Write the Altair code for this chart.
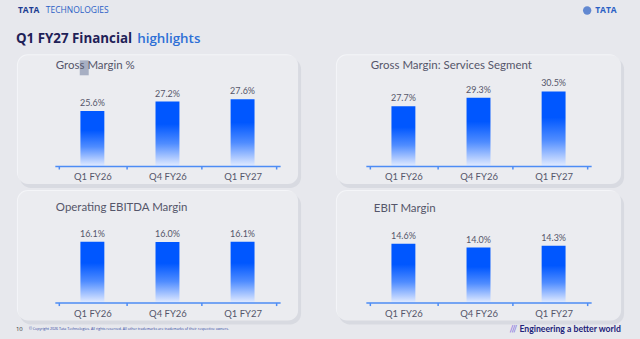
import altair as alt
import pandas as pd

quarters = ["Q1 FY26", "Q4 FY26", "Q1 FY27"]
gross_margin = [25.6, 27.2, 27.6]
services_margin = [27.7, 29.3, 30.5]
ebitda_margin = [16.1, 16.0, 16.1]
ebit_margin = [14.6, 14.0, 14.3]

panel_titles = ["Gross Margin %", "Gross Margin: Services Segment",
                "Operating EBITDA Margin", "EBIT Margin"]

W, H = 226, 85
BG = "#e7e8ed"
PANEL = "#ebecf0"
TXT = "#55566a"
AXIS_BLUE = "#4d8cf5"
FONT = "Lato"

bar_gradient = alt.Gradient(
    gradient="linear",
    stops=[
        alt.GradientStop(color="#0057ff", offset=0),
        alt.GradientStop(color="#0057ff", offset=0.35),
        alt.GradientStop(color="#4f8cff", offset=0.65),
        alt.GradientStop(color="#e2ebff", offset=1),
    ],
    x1=0, x2=0, y1=0, y2=1,
)

one = pd.DataFrame({"a": [0]})


def rect(x, x2, y, y2, fill, radius=0, opacity=1.0):
    return alt.Chart(one).mark_rect(fill=fill, cornerRadius=radius, opacity=opacity).encode(
        x=alt.value(x), x2=alt.value(x2), y=alt.value(y), y2=alt.value(y2))


def txt(s, x, y, size, color, weight="normal", font=FONT, align="left"):
    return alt.Chart(one).mark_text(text=s, fontSize=size, color=color, fontWeight=weight,
                                    font=font, align=align, baseline="middle").encode(
        x=alt.value(x), y=alt.value(y))


def panel(vals, domain, title, rx0, rx1, ry0, ry1, tx, ty, extra_before=None, extra_after=None):
    df = pd.DataFrame({"q": quarters, "v": vals, "lbl": [f"{v:.1f}%" for v in vals]})
    base = alt.Chart(df).encode(
        x=alt.X("q:N", sort=quarters, title=None,
                axis=alt.Axis(domainColor=AXIS_BLUE, domainWidth=1.5, tickColor=AXIS_BLUE,
                              tickWidth=1.5, tickSize=3, tickBand="extent", labelAngle=0,
                              labelColor=TXT, labelFontSize=9.5, labelFont=FONT,
                              labelPadding=3, grid=False, zindex=1)),
        y=alt.Y("v:Q", scale=alt.Scale(domain=domain, zero=False, nice=False), axis=None),
    )
    bars = base.mark_bar(size=24, color=bar_gradient).encode(y2=alt.Y2(datum=domain[0]))
    labels = base.mark_text(baseline="bottom", dy=-3, fontSize=9, color=TXT, font=FONT).encode(
        text="lbl:N")
    layers = []
    if extra_before:
        layers += extra_before
    layers += [
        rect(rx0 + 2, rx1 + 3, ry0 + 3, ry1 + 4, "#d6d8df", 11, 0.9),
        rect(rx0 - 1, rx1 - 1, ry0 - 1, ry1 - 1, "#f4f5f8", 11),
        rect(rx0, rx1, ry0, ry1, PANEL, 10),
    ]
    if extra_after:
        layers += extra_after
    layers += [txt(title, tx, ty, 11.5, TXT), bars, labels]
    return alt.layer(*layers).properties(width=W, height=H)


# slide decorations, positioned relative to the top-left panel's plot area (54, 80)
OX, OY = 54, 80
slide_bg = [rect(-OX, 640 - OX, -OY, 339 - OY, BG)]
header = [
    txt("TATA", 17 - OX, 9 - OY, 8.5, "#1c3c92", "bold", "Open Sans"),
    txt("TECHNOLOGIES", 45 - OX, 9 - OY, 8.5, "#2c5fc6", "normal", "Open Sans"),
    txt("Q1 FY27 Financial", 15 - OX, 38 - OY, 13.4, "#1f2157", "bold", "Open Sans"),
    txt("highlights", 200 - OX, 38 - OY, 13.4, "#2d6fd6", 600, "Open Sans", "right"),
    alt.Chart(one).mark_point(shape="circle", filled=True, size=70, color="#2a5fc4").encode(
        x=alt.value(588 - OX), y=alt.value(9 - OY)),
    txt("TATA", 596 - OX, 9 - OY, 8.5, "#2a5fc4", "bold", "Open Sans"),
    txt("10", 15 - OX, 328 - OY, 6, "#333333", "normal", "Open Sans"),
    txt("© Copyright 2026 Tata Technologies. All rights reserved. All other trademarks are trademarks of their respective owners.",
        28 - OX, 328 - OY, 3.6, "#2a3fa0", "normal", "Open Sans"),
    txt("///", 510 - OX, 329 - OY, 8.5, "#8f7fe0", "bold", FONT),
    txt("Engineering a better world", 520 - OX, 329 - OY, 8.7, "#22237a", "bold", FONT),
    rect(79 - OX, 88 - OX, 59 - OY, 74 - OY, "#9ba5bb", 0, 0.85),
]

tl = panel(gross_margin, [16.4, 30.6], panel_titles[0], -37, 244, -26, 103, 1, -15,
           extra_before=slide_bg, extra_after=header)
tr = panel(services_margin, [16.5, 32.4], panel_titles[1], -29, 256, -26, 103, 5, -15)
bl = panel(ebitda_margin, [0, 22.4], panel_titles[2], -37, 244, -27, 103, 1, -10)
br = panel(ebit_margin, [5.1, 18.8], panel_titles[3], -29, 256, -27, 103, 8, -9)

chart = alt.concat(tl, tr, bl, br, columns=2, spacing={"row": 52, "column": 86},
                   bounds="flush").properties(
    padding=0, autosize=alt.AutoSizeParams(type="pad")
).configure_view(stroke=None).configure(background=BG)

chart.save("out.html", embed_options={"renderer": "svg", "actions": False})
